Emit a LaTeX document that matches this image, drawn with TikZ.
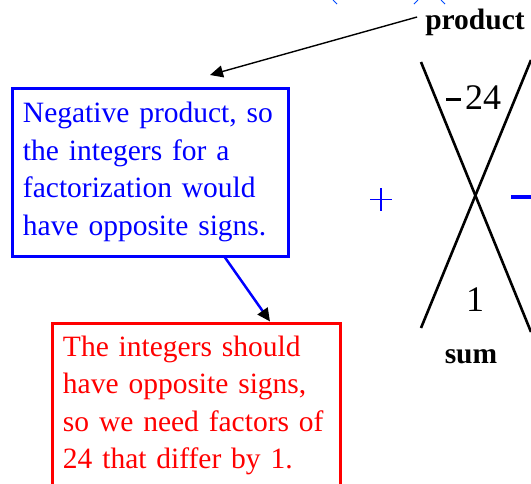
\documentclass[tikz,border=0pt]{standalone}
\usepackage{fontspec}
\setmainfont{Liberation Serif}
\usetikzlibrary{arrows.meta}
\begin{document}
\begin{tikzpicture}[x=1pt,y=-1pt,
  boxtext/.style={draw, line width=3pt, align=left, inner xsep=11pt, inner ysep=6pt,
    font=\fontsize{29.5}{37.5}\selectfont},
  lbl/.style={font=\fontsize{29.5}{30}\selectfont\bfseries, inner sep=0pt},
  num/.style={font=\fontsize{36}{36}\selectfont, inner sep=0pt},
  xline/.style={line width=2.6pt, black},
  ptr/.style={-{Triangle[length=13pt,width=12pt,color=black]}}]
\useasboundingbox[fill=white] (0,0) rectangle (531,483);
% fragments at the top
\draw[blue!70!cyan, line width=1pt] (333,0) -- (337,4);
\draw[blue!70!cyan, line width=1pt] (418,0) -- (414,4);
\draw[blue!70!cyan, line width=1pt] (441,0) -- (445,4);
% X diagram
\draw[xline] (421,62) -- (531,332);
\draw[xline] (421,328) -- (531,60);
\node[lbl] (prod) at (475,22) {product};
\node[num] (top) at (483,98) {24};
\draw[line width=3pt] (446,99) -- (461,99);
\node[num] (bot) at (475,300) {1};
\node[lbl] (sum) at (471,357) {sum};
\draw[blue, line width=1.8pt] (370,199.5) -- (392,199.5) (381,188) -- (381,211);
\draw[blue, line width=3.5pt] (511,197) -- (531,197);
% boxes
\node[boxtext, draw=blue, text=blue, minimum width=276pt, minimum height=168pt, text width=254pt] (nb) at (150,172)
  {Negative product, so\\ the integers for a\\ factorization would\\ have opposite signs.};
\node[boxtext, draw=red, text=red, minimum height=165pt, minimum width=288pt, text width=266pt] (nr) at (196,405.5)
  {The integers should\\ have opposite signs,\\ so we need factors of\\ 24 that differ by 1.};
% arrows
\coordinate (tip) at (210,75);
\draw[ptr, black, line width=1.4pt] ([xshift=-8pt,yshift=5pt]prod.west) -- (tip);
\draw[ptr, blue, line width=2.5pt] ([xshift=75pt]nb.south) -- ([xshift=74pt]nr.north);
\end{tikzpicture}
\end{document}
